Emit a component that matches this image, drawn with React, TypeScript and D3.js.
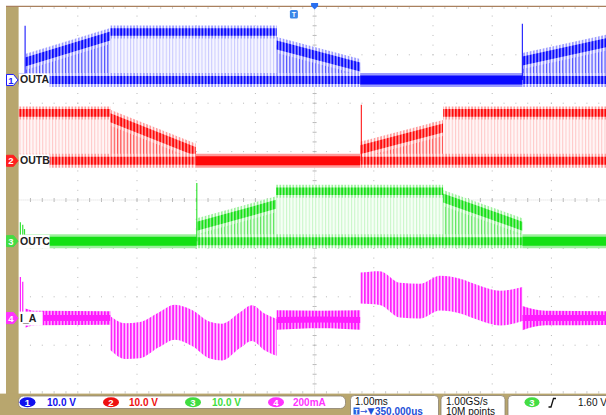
import React from 'react';
import * as d3 from 'd3';

const WIDTH = 606;
const HEIGHT = 415;

// 1.00 ms/div, 10 horizontal divisions; time in ms from the left edge of the graticule
const TIME_DOMAIN: [number, number] = [0, 10];
// 8 vertical divisions
const DIV_DOMAIN: [number, number] = [-4, 4];

// OUTA (ch1, 10 V/div): PWM segments [t0, t1, highStart V, highEnd V]
const outaPulses = [
  [0.11, 1.55, 3.7, 9.1],
  [1.55, 4.36, 9.9, 9.9],
  [4.36, 5.77, 7.2, 2.7],
  [8.51, 10.0, 3.9, 7.9],
];
const outaFlat = [[0.0, 0.11], [5.77, 8.51]];
const outaSpikes = [[0.11, 11.2], [8.51, 11.6]];

// OUTB (ch2, 10 V/div)
const outbPulses = [
  [0.0, 1.55, 9.9, 9.9],
  [1.55, 2.99, 8.9, 1.9],
  [5.77, 7.17, 2.3, 6.8],
  [7.17, 10.0, 9.9, 9.9],
];
const outbFlat = [[2.99, 5.77]];
const outbSpikes = [[5.79, 11.6]];

// OUTC (ch3, 10 V/div)
const outcPulses = [
  [3.01, 4.35, 3.1, 7.6],
  [4.35, 7.17, 10.3, 10.3],
  [7.17, 8.51, 8.9, 3.1],
];
const outcFlat = [[0.11, 3.01], [8.51, 10.0]];
const outcSpikes = [[3.01, 12.0], [0.03, 3.9], [0.07, 3.4], [0.1, 2.5]];

// I_A (ch4, 200 mA/div): [t ms, centre mA, ripple half-amplitude mA]
const iaSegments = [
  [[0.11, 0, 40], [0.3, 0, 30], [1.55, 0, 28]],
  [[1.55, -62, 70], [1.8, -95, 74], [2.05, -91, 75], [2.36, -50, 72], [2.64, -17, 72], [2.93, -41, 74], [3.23, -91, 76], [3.44, -99, 76], [3.74, -50, 74], [3.94, -21, 74], [4.16, -58, 76], [4.36, -80, 76]],
  [[4.36, -8, 40], [5.1, -6, 36], [5.77, -8, 40]],
  [[5.77, 124, 64], [6.1, 124, 70], [6.44, 74, 72], [6.78, 70, 72], [7.12, 103, 72], [7.46, 91, 72], [7.79, 62, 72], [8.13, 41, 72], [8.51, 58, 70]],
  [[8.51, 0, 50], [8.9, 0, 30], [10.0, 0, 28]],
];
const iaSpikes = [[0.03, 170], [0.07, 150]];

const channels = [
  { id: 'A', num: '1', label: 'OUTA', offset: 2.48, scale: 10, dark: '#0808ff', band: '#9a9aff', midFg: '#c8c8ff', midBg: '#f6f6ff', ramp: '#5050ff', rampBg: '#eaeaff' },
  { id: 'B', num: '2', label: 'OUTB', offset: 0.81, scale: 10, dark: '#ff0808', band: '#ff9a9a', midFg: '#ffc8c8', midBg: '#fff6f6', ramp: '#ff5050', rampBg: '#ffeaea' },
  { id: 'C', num: '3', label: 'OUTC', offset: -0.85, scale: 10, dark: '#14e014', band: '#9cf09c', midFg: '#c8f6c8', midBg: '#f6fff6', ramp: '#5ae65a', rampBg: '#eafcea' },
  { id: 'I', num: '4', label: 'I_A', offset: -2.44, scale: 200, dark: '#ff1cff', band: '#ff9cff', midFg: '#ffc6ff', midBg: '#fff3ff', ramp: '#ff6aff', rampBg: '#ffeaff' },
];

const statusChannels = [
  { num: '1', text: '10.0 V', color: '#1010ee' },
  { num: '2', text: '10.0 V', color: '#ee1010' },
  { num: '3', text: '10.0 V', color: '#40dd40' },
  { num: '4', text: '200mA', color: '#ff33ff' },
];

const x = d3.scaleLinear().domain(TIME_DOMAIN).range([18.6, 610.6]);
const yDiv = d3.scaleLinear().domain(DIV_DOMAIN).range([393.6, 6.4]);
const P = 3.25; // PWM stripe period in px (style)

type Ch = typeof channels[number];
const yv = (ch: Ch, v: number) => yDiv(ch.offset + v / ch.scale);

function Patterns() {
  const pat = (id: string, fg: string, bg: string, w = 1.6) => (
    <pattern key={id} id={id} width={P} height={20} patternUnits="userSpaceOnUse">
      <rect width={P} height={20} fill={bg} />
      <rect width={w} height={20} fill={fg} />
    </pattern>
  );
  const out: any[] = [];
  channels.forEach((c) => {
    out.push(pat(`band-${c.id}`, c.dark, c.band, 1.8));
    out.push(pat(`halo-${c.id}`, c.band, c.midBg, 1.6));
    out.push(pat(`mid-${c.id}`, c.midFg, c.midBg, 1.0));
    out.push(pat(`ramp-${c.id}`, c.ramp, c.rampBg, 1.2));
  });
  out.push(pat('ripple', '#ff22ff', '#ffdcff', 1.8));
  out.push(pat('rippleDense', '#ff10ff', '#ffa8ff', 1.8));
  return <defs>{out}</defs>;
}

function PulseTrace({ ch, pulses, flats, spikes }: { ch: Ch; pulses: number[][]; flats: number[][]; spikes: number[][] }) {
  const g0 = yv(ch, 0);
  const band = (hw: number) =>
    d3.area<number[]>().x((d) => x(d[0])).y0((d) => yv(ch, d[1]) + hw).y1((d) => yv(ch, d[1]) - hw);
  const mid = d3.area<number[]>().x((d) => x(d[0])).y0(g0).y1((d) => yv(ch, d[1]));
  return (
    <g>
      {pulses.map((p, i) => {
        const pts = [[p[0], p[2]], [p[1], p[3]]];
        const lo = [[p[0], 0], [p[1], 0]];
        const isRamp = p[2] !== p[3];
        return (
          <g key={i}>
            <path d={mid(pts) || ''} fill={`url(#${isRamp ? 'ramp' : 'mid'}-${ch.id})`} />
            <path d={band(isRamp ? 8 : 6.5)(pts) || ''} fill={`url(#halo-${ch.id})`} />
            <path d={band(isRamp ? 4.5 : 3.8)(pts) || ''} fill={`url(#band-${ch.id})`} />
            <path d={band(7)(lo) || ''} fill={`url(#halo-${ch.id})`} />
            <path d={band(4)(lo) || ''} fill={`url(#band-${ch.id})`} />
          </g>
        );
      })}
      {flats.map((f, i) => {
        const pts = [[f[0], 0], [f[1], 0]];
        return (
          <g key={'f' + i}>
            <path d={band(7)(pts) || ''} fill={ch.band} />
            <path d={band(4.5)(pts) || ''} fill={ch.dark} />
          </g>
        );
      })}
      {spikes.map((s, i) => (
        <line key={'s' + i} x1={x(s[0])} x2={x(s[0])} y1={g0} y2={yv(ch, s[1])} stroke={ch.dark} strokeWidth={1.2} opacity={0.85} />
      ))}
    </g>
  );
}

function CurrentTrace({ ch }: { ch: Ch }) {
  const area = d3
    .area<number[]>()
    .x((d) => x(d[0]))
    .y0((d) => yv(ch, d[1] - d[2]))
    .y1((d) => yv(ch, d[1] + d[2]))
    .curve(d3.curveMonotoneX);
  const core = d3
    .area<number[]>()
    .x((d) => x(d[0]))
    .y0((d) => yv(ch, d[1]) + 3)
    .y1((d) => yv(ch, d[1]) - 3)
    .curve(d3.curveMonotoneX);
  return (
    <g>
      {iaSegments.map((seg, i) => {
        const dense = seg[0][2] <= 50;
        return (
          <g key={i}>
            <path d={area(seg) || ''} fill={`url(#${dense ? 'rippleDense' : 'ripple'})`} />
            {dense && <path d={core(seg) || ''} fill="#ff1cff" />}
          </g>
        );
      })}
      {iaSpikes.map((s, i) => (
        <line key={i} x1={x(s[0])} x2={x(s[0])} y1={yv(ch, 0)} y2={yv(ch, s[1])} stroke={ch.dark} strokeWidth={1.2} />
      ))}
    </g>
  );
}

function Grid() {
  const els: any[] = [];
  const left = x(0), right = x(10), top = yDiv(4), bottom = yDiv(-4);
  const dx = (right - left) / 50;
  const dy = (bottom - top) / 40;
  const cx = x(5), cy = yDiv(0);
  for (let k = 1; k < 10; k++) {
    if (k === 5) continue;
    const xx = x(k);
    for (let j = 1; j < 40; j++) els.push(<rect key={`v${k}-${j}`} x={xx - 0.5} y={top + j * dy - 0.5} width={1} height={1} fill="#b8b8b8" />);
  }
  for (let k = -3; k <= 3; k++) {
    if (k === 0) continue;
    const yy = yDiv(k);
    for (let j = 1; j < 50; j++) els.push(<rect key={`h${k}-${j}`} x={left + j * dx - 0.5} y={yy - 0.5} width={1} height={1} fill="#b8b8b8" />);
  }
  for (let j = 1; j < 50; j++) {
    const xx = left + j * dx;
    els.push(<line key={`ct${j}`} x1={xx} x2={xx} y1={cy - 2} y2={cy + 2} stroke="#a8a8a8" strokeWidth={0.8} />);
    els.push(<line key={`tt${j}`} x1={xx} x2={xx} y1={top} y2={top + 2.5} stroke="#c0c0c0" strokeWidth={0.8} />);
    els.push(<line key={`bt${j}`} x1={xx} x2={xx} y1={bottom - 2.5} y2={bottom} stroke="#c0c0c0" strokeWidth={0.8} />);
  }
  for (let j = 1; j < 40; j++) {
    const yy = top + j * dy;
    els.push(<line key={`cv${j}`} x1={cx - 2} x2={cx + 2} y1={yy} y2={yy} stroke="#a8a8a8" strokeWidth={0.8} />);
  }
  els.push(<line key="cx" x1={left} x2={right} y1={cy} y2={cy} stroke="#c8c8c8" strokeWidth={0.7} strokeDasharray="1,1" />);
  els.push(<line key="cy" x1={cx} x2={cx} y1={top} y2={bottom} stroke="#c8c8c8" strokeWidth={0.7} strokeDasharray="1,1" />);
  return <g>{els}</g>;
}

function ChannelMarker({ ch, i }: { ch: Ch; i: number }) {
  const y = yv(ch, 0);
  const colors = ['#1a1aff', '#ff2020', '#44dd44', '#ff33ff'];
  const c = colors[i];
  const filled = i > 0;
  const w = ch.label.length * 6.9 + 3;
  return (
    <g>
      <path d={`M6.5,${y - 5.5} H13.5 L18,${y} L13.5,${y + 5.5} H6.5 Z`} fill={filled ? c : '#ffffff'} stroke={c} strokeWidth={1} />
      <text x={11} y={y + 3.6} textAnchor="middle" fontFamily="Liberation Sans, Arial, sans-serif" fontWeight="bold" fontSize={9.5} fill={filled ? '#ffffff' : c}>
        {ch.num}
      </text>
      <rect x={19} y={y - 6.5} width={w} height={14} fill="#ffffff" />
      <text x={20} y={y + 3.5} fontFamily="Liberation Sans, Arial, sans-serif" fontWeight="bold" fontSize={10.5} fill="#202020">
        {ch.label}
      </text>
    </g>
  );
}

function StatusBar() {
  const font = 'Liberation Sans, Arial, sans-serif';
  const pos = [27.5, 111, 193, 276];
  const tx = [47, 129, 212, 293];
  return (
    <g fontFamily={font}>
      <rect x={0} y={393.6} width={WIDTH} height={HEIGHT - 393.6} fill="#b8a66e" />
      <rect x={18.5} y={396} width={327} height={12.5} rx={5} fill="#ffffff" stroke="#8a8070" strokeWidth={0.8} />
      {statusChannels.map((s, i) => (
        <g key={i}>
          <ellipse cx={pos[i]} cy={402.2} rx={8} ry={5} fill={s.color} />
          <text x={pos[i]} y={405.6} textAnchor="middle" fontSize={9.5} fontWeight="bold" fill="#ffffff">{s.num}</text>
          <text x={tx[i]} y={406} fontSize={10} fontWeight="bold" fill={s.color}>{s.text}</text>
        </g>
      ))}
      <rect x={350.5} y={395.5} width={88} height={24} rx={4} fill="#ffffff" stroke="#8a8070" strokeWidth={0.8} />
      <text x={355} y={405} fontSize={10} fill="#111">1.00ms</text>
      <rect x={353.5} y={407.5} width={6} height={7} fill="#2060e0" />
      <text x={356.5} y={413.5} textAnchor="middle" fontSize={6.5} fontWeight="bold" fill="#fff">T</text>
      <text x={360} y={414} fontSize={9} fill="#1e50d8" fontFamily="DejaVu Sans, sans-serif">→▼</text>
      <text x={375} y={414.5} fontSize={10} fontWeight="bold" fill="#1e50d8">350.000us</text>
      <rect x={441} y={395.5} width={64} height={24} rx={4} fill="#ffffff" stroke="#8a8070" strokeWidth={0.8} />
      <text x={446} y={405} fontSize={10} fill="#111">1.00GS/s</text>
      <text x={446} y={414.5} fontSize={10} fill="#111">10M points</text>
      <rect x={508} y={395.5} width={104} height={24} rx={4} fill="#ffffff" stroke="#8a8070" strokeWidth={0.8} />
      <ellipse cx={532} cy={402.2} rx={7.5} ry={5} fill="#44dd44" />
      <text x={532} y={405.6} textAnchor="middle" fontSize={9.5} fontWeight="bold" fill="#ffffff">3</text>
      <path d="M548.5,407 H551 L553.5,398.5 H556" fill="none" stroke="#111" strokeWidth={1.3} />
      <text x={578} y={406} fontSize={10} fill="#111">1.60 V</text>
    </g>
  );
}

export default function App() {
  const [chA, chB, chC, chI] = channels;
  return (
    <div style={{ position: 'absolute', left: 0, top: 0, width: WIDTH, height: HEIGHT, overflow: 'hidden', background: '#fff' }}>
      <svg width={WIDTH} height={HEIGHT} viewBox={`0 0 ${WIDTH} ${HEIGHT}`}>
        <Patterns />
        <rect x={0} y={0} width={WIDTH} height={HEIGHT} fill="#ffffff" />
        <Grid />
        <CurrentTrace ch={chI} />
        <PulseTrace ch={chC} pulses={outcPulses} flats={outcFlat} spikes={outcSpikes} />
        <PulseTrace ch={chB} pulses={outbPulses} flats={outbFlat} spikes={outbSpikes} />
        <PulseTrace ch={chA} pulses={outaPulses} flats={outaFlat} spikes={outaSpikes} />
        <rect x={6} y={6} width={12.6} height={HEIGHT} fill="#b8a66e" />
        <line x1={6} x2={WIDTH} y1={6.4} y2={6.4} stroke="#a9805e" strokeWidth={1.2} />
        {channels.map((c, i) => (
          <ChannelMarker key={c.id} ch={c} i={i} />
        ))}
        <path d={`M${x(5) - 3.5},3 H${x(5) + 3.5} V6 L${x(5)},9.5 L${x(5) - 3.5},6 Z`} fill="#2a6ff0" />
        <rect x={x(5) - 20.7 - 4} y={10} width={8} height={8.5} rx={1.5} fill="#3a86e8" />
        <text x={x(5) - 20.7} y={17} textAnchor="middle" fontSize={7} fontWeight="bold" fontFamily="Liberation Sans, Arial, sans-serif" fill="#ffffff">T</text>
        <StatusBar />
      </svg>
    </div>
  );
}
